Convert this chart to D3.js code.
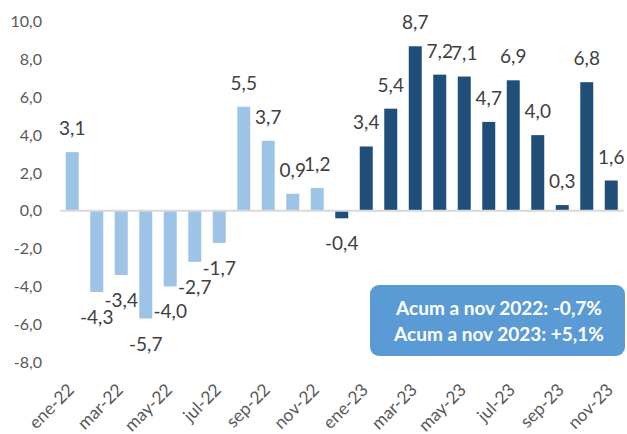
<!DOCTYPE html>
<html>
<head>
<meta charset="utf-8">
<script src="https://cdn.jsdelivr.net/npm/d3@7"></script>
<style>
  body { margin: 0; background: #fff; }
  svg { display: block; font-family: Lato, "Noto Sans", sans-serif; }
</style>
</head>
<body>
<div id="chart"></div>
<script>
const meses = [
  "ene-22", "feb-22", "mar-22", "abr-22", "may-22", "jun-22", "jul-22", "ago-22",
  "sep-22", "oct-22", "nov-22", "dic-22",
  "ene-23", "feb-23", "mar-23", "abr-23", "may-23", "jun-23", "jul-23", "ago-23",
  "sep-23", "oct-23", "nov-23"
]
const valores = [
  3.1, -4.3, -3.4, -5.7, -4.0, -2.7, -1.7, 5.5, 3.7, 0.9, 1.2, -0.4,
  3.4, 5.4, 8.7, 7.2, 7.1, 4.7, 6.9, 4.0, 0.3, 6.8, 1.6
]
// 0 = tramo claro, 1 = tramo oscuro
const grupo = [0,0,0,0,0,0,0,0,0,0,0,1,1,1,1,1,1,1,1,1,1,1,1]
const xTickLabels = ["ene-22", "mar-22", "may-22", "jul-22", "sep-22", "nov-22",
  "ene-23", "mar-23", "may-23", "jul-23", "sep-23", "nov-23"]
const yTicks = [-8, -6, -4, -2, 0, 2, 4, 6, 8, 10]
const acumulados = ["Acum a nov 2022: -0,7%", "Acum a nov 2023: +5,1%"]

const COLORS = ["#9dc3e6", "#1f4e79"]

const width = 627, height = 434
const locale = d3.formatLocale({ decimal: ",", thousands: ".", grouping: [3], currency: ["", ""], minus: "-" })
const fmt = locale.format(".1f")

const svg = d3.select("#chart").append("svg")
  .attr("width", width)
  .attr("height", height)

const x = d3.scaleBand()
  .domain(meses)
  .range([60, 623.5])
  .paddingInner(0.47)
  .paddingOuter(0.235)

const y = d3.scaleLinear()
  .domain([-8, 10])
  .range([362, 21.7])

// y labels (no axis line)
svg.append("g")
  .selectAll("text")
  .data(yTicks)
  .join("text")
  .attr("x", 42)
  .attr("y", d => y(d))
  .attr("dy", "0.35em")
  .attr("text-anchor", "end")
  .attr("fill", "#595959")
  .style("font-size", "16px")
  .text(d => fmt(d))

// bars
const data = meses.map((m, i) => ({ mes: m, v: valores[i], g: grupo[i] }))

svg.append("g")
  .selectAll("rect")
  .data(data)
  .join("rect")
  .attr("x", d => x(d.mes))
  .attr("width", x.bandwidth())
  .attr("y", d => y(Math.max(0, d.v)))
  .attr("height", d => Math.abs(y(d.v) - y(0)))
  .attr("fill", d => COLORS[d.g])

// zero line
svg.append("line")
  .attr("x1", 60)
  .attr("x2", 623.5)
  .attr("y1", y(0))
  .attr("y2", y(0))
  .attr("stroke", "#d9d9d9")
  .attr("stroke-width", 2)

// data labels
svg.append("g")
  .selectAll("text")
  .data(data)
  .join("text")
  .attr("x", d => x(d.mes) + x.bandwidth() / 2)
  .attr("y", d => d.v >= 0 ? y(d.v) - 17 : y(d.v) + 32)
  .attr("text-anchor", "middle")
  .attr("fill", "#404040")
  .style("font-size", "19px")
  .text(d => fmt(d.v))

// x labels, rotated
svg.append("g")
  .selectAll("text")
  .data(xTickLabels)
  .join("text")
  .attr("transform", d => `translate(${x(d) + x.bandwidth() / 2 + 3},391) rotate(-45)`)
  .attr("text-anchor", "end")
  .attr("fill", "#595959")
  .style("font-size", "17.5px")
  .text(d => d)

// cuadro acumulado
const box = svg.append("g")
box.append("rect")
  .attr("x", 370)
  .attr("y", 285)
  .attr("width", 255)
  .attr("height", 71)
  .attr("rx", 9)
  .attr("fill", "#5b9bd5")

box.selectAll("text")
  .data(acumulados)
  .join("text")
  .attr("x", 499)
  .attr("y", (d, i) => 315 + i * 26)
  .attr("text-anchor", "middle")
  .attr("fill", "#fff")
  .style("font-size", "19px")
  .style("font-weight", "bold")
  .text(d => d)
</script>
</body>
</html>
